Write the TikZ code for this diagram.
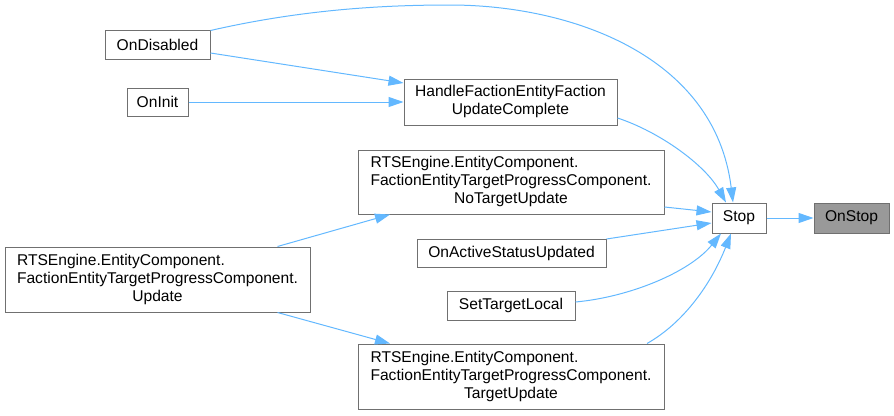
\documentclass[tikz,border=0pt]{standalone}
\usepackage{fontspec}
\setmainfont{Liberation Sans}
\usetikzlibrary{arrows.meta}
\definecolor{edgeblue}{HTML}{63B8FF}
\definecolor{boxgray}{HTML}{707070}
\definecolor{fillgray}{HTML}{999999}
\tikzset{
  fn/.style={draw=boxgray, line width=1pt, fill=white, inner sep=0pt,
    font=\fontsize{15.6}{18}\selectfont},
  call/.style={draw=edgeblue, line width=1pt, -{Triangle[length=15pt,width=10pt]}},
}
\begin{document}
\begin{tikzpicture}[x=1pt,y=-1pt]
\useasboundingbox (0,0) rectangle (894,415);
\node[fn, minimum width=105pt, minimum height=29pt] (ondis) at (157.5,44.5) {OnDisabled};
\node[fn, minimum width=61pt, minimum height=28pt] (oninit) at (157.5,102) {OnInit};
\node[fn, minimum width=213pt, minimum height=46pt] (handle) at (510.5,102)
  {\begin{tabular}{@{}l@{}}HandleFactionEntityFaction\\\multicolumn{1}{@{}c@{}}{UpdateComplete}\end{tabular}};
\node[fn, minimum width=306pt, minimum height=64pt] (notarget) at (511,182)
  {\begin{tabular}{@{}l@{}}RTSEngine.EntityComponent.\\FactionEntityTargetProgressComponent.\\\multicolumn{1}{@{}c@{}}{NoTargetUpdate}\end{tabular}};
\node[fn, minimum width=305pt, minimum height=65pt] (upd) at (157.5,279.5)
  {\begin{tabular}{@{}l@{}}RTSEngine.EntityComponent.\\FactionEntityTargetProgressComponent.\\\multicolumn{1}{@{}c@{}}{Update}\end{tabular}};
\node[fn, minimum width=189pt, minimum height=28pt] (onactive) at (511.5,253) {OnActiveStatusUpdated};
\node[fn, minimum width=128pt, minimum height=29pt] (settarget) at (511,305.5) {SetTargetLocal};
\node[fn, minimum width=306pt, minimum height=65pt] (targetupd) at (511,376.5)
  {\begin{tabular}{@{}l@{}}RTSEngine.EntityComponent.\\FactionEntityTargetProgressComponent.\\\multicolumn{1}{@{}c@{}}{TargetUpdate}\end{tabular}};
\node[fn, minimum width=54pt, minimum height=30pt] (stop) at (739,218) {Stop};
\node[fn, fill=fillgray, minimum width=75pt, minimum height=30pt] (onstop) at (851.5,218) {OnStop};

\draw[call] ([yshift=-1pt]ondis.north east) .. controls (300,10) and (380,5) .. (450,5)
  .. controls (570,5) and (715,55) .. ([xshift=-6pt]stop.north);
\draw[call] ([yshift=-8.5pt]ondis.east) -- ([yshift=19pt]handle.west);
\draw[call] (oninit.east) -- (handle.west);
\draw[call] ([yshift=-16pt]handle.east) .. controls (660,132) and (705,165) .. ([xshift=-13pt]stop.north);
\draw[call] ([yshift=-25pt]notarget.east) -- ([yshift=6pt]stop.west);
\draw[call] ([yshift=14pt]onactive.east) -- ([yshift=-5pt]stop.west);
\draw[call] ([yshift=3.5pt]settarget.east) .. controls (630,297) and (690,272) .. ([xshift=-18pt]stop.south);
\draw[call] ([xshift=136pt]targetupd.north) .. controls (685,322) and (712,282) .. ([xshift=-8pt]stop.south);
\draw[call] ([xshift=120pt]upd.north) -- ([xshift=-121pt]notarget.south);
\draw[call] ([xshift=120pt]upd.south) -- ([xshift=-121pt]targetupd.north);
\draw[call] (stop.east) -- (onstop.west);
\end{tikzpicture}
\end{document}
